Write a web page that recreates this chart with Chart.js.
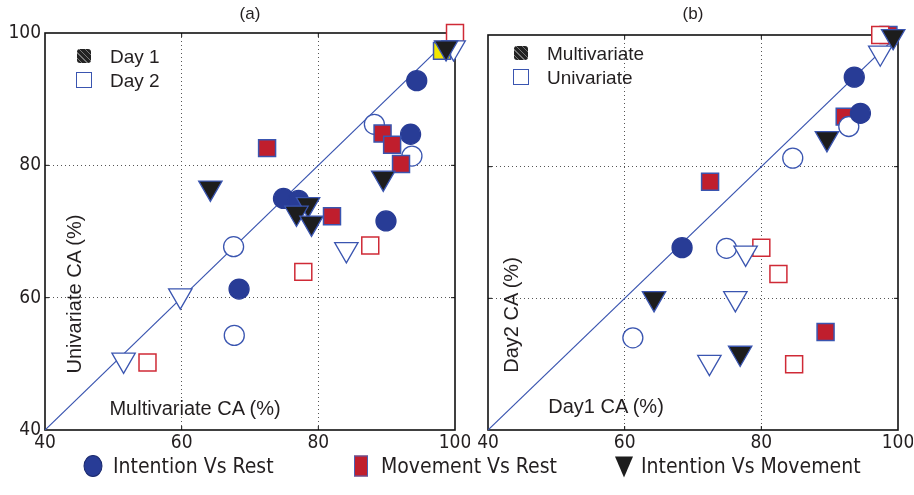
<!DOCTYPE html>
<html>
<head>
<meta charset="utf-8">
<script src="https://cdn.jsdelivr.net/npm/chart.js@4/dist/chart.umd.min.js"></script>
<style>
    html, body { margin: 0; padding: 0; background: #fff; }
    body { width: 914px; height: 495px; position: relative; overflow: hidden;
           font-family: 'Liberation Sans', Arial, sans-serif; color: #231f20; }
    .panel { position: absolute; top: 0; width: 470px; height: 455px; }
    .txt { position: absolute; white-space: nowrap; font-size: 18px; line-height: 1; }
    .rot { transform: translate(-50%, -50%) rotate(-90deg); }
    .ctr { transform: translate(-50%, -50%); }
    .mid { transform: translateY(-50%); }
    .cond { font-family: 'DejaVu Sans Condensed', 'Liberation Sans Narrow', sans-serif; }
    .mk { position: absolute; box-sizing: border-box; transform: translate(-50%, -50%); }
</style>
</head>
<body>
<div class="panel" style="left:0"><canvas id="chartA" width="470" height="455"></canvas></div>
<div class="panel" style="left:443px"><canvas id="chartB" width="470" height="455"></canvas></div>

<div class="txt ctr" style="left:250px;top:13px;font-size:17px">(a)</div>
<div class="txt ctr" style="left:693px;top:13px;font-size:17px">(b)</div>

<div class="txt rot" style="left:74px;top:294px;font-size:20px">Univariate CA (%)</div>
<div class="txt ctr" style="left:195px;top:408px;font-size:20px">Multivariate CA (%)</div>
<div class="txt rot" style="left:511px;top:315px;font-size:20px">Day2 CA (%)</div>
<div class="txt ctr" style="left:606px;top:406px;font-size:20px">Day1 CA (%)</div>

<div class="mk" style="left:84px;top:56px;width:14px;height:14px;border-radius:3px;background:repeating-linear-gradient(45deg,#222 0 3px,#777 3px 4px)"></div>
<div class="txt mid" style="left:110px;top:56px;font-size:19px">Day 1</div>
<div class="mk" style="left:84px;top:80px;width:16px;height:16px;border:1.5px solid #3a55b0"></div>
<div class="txt mid" style="left:110px;top:80px;font-size:19px">Day 2</div>

<div class="mk" style="left:521px;top:53px;width:14px;height:14px;border-radius:3px;background:repeating-linear-gradient(45deg,#222 0 3px,#777 3px 4px)"></div>
<div class="txt mid" style="left:547px;top:53px;font-size:19px">Multivariate</div>
<div class="mk" style="left:521px;top:77px;width:16px;height:16px;border:1.5px solid #3a55b0"></div>
<div class="txt mid" style="left:547px;top:77px;font-size:19px">Univariate</div>

<div class="mk" style="left:93px;top:466px;width:19px;height:22px;border-radius:50%;background:#283c96;border:1px solid #1b2a6e"></div>
<div class="txt mid cond" style="left:113px;top:466px;font-size:21px">Intention Vs Rest</div>
<div class="mk" style="left:361px;top:466px;width:14px;height:21px;background:#c01e2d;border:1.5px solid #4a62b5"></div>
<div class="txt mid cond" style="left:381px;top:466px;font-size:21px">Movement Vs Rest</div>
<div class="mk" style="left:624px;top:466px;width:0;height:0;border-left:9px solid transparent;border-right:9px solid transparent;border-top:21px solid #1d1d1d;transform:translate(-50%,-45%)"></div>
<div class="txt mid cond" style="left:641px;top:466px;font-size:21px">Intention Vs Movement</div>

<script>
// axis range and ticks
var axisTicks = [40, 60, 80, 100];
var diagonal = [[40, 40], [100, 100]];

// (a) multivariate (x) vs univariate (y)
var aIntRestDay1 = [[94.4, 92.8], [93.5, 84.7], [74.9, 75.0], [77.1, 74.7], [89.9, 71.6], [68.4, 61.3]];
var aIntRestDay2 = [[88.2, 86.2], [93.7, 81.4], [67.6, 67.7], [67.7, 54.3]];
var aMoveRestDay1 = [[72.5, 82.6], [89.4, 84.8], [90.8, 83.1], [92.1, 80.2], [82.0, 72.3]];
var aMoveRestDay1Top = [[98.1, 97.3]];
var aMoveRestDay2 = [[100, 100], [87.6, 67.9], [77.8, 63.9], [55.0, 50.2]];
var aIntMoveDay1 = [[64.2, 76.6], [78.5, 74.1], [76.8, 72.8], [79.0, 71.3], [89.5, 78.1], [98.7, 97.8]];
var aIntMoveDay2 = [[99.8, 97.8], [84.1, 67.3], [59.8, 60.3], [51.5, 50.6]];

// (b) day 1 (x) vs day 2 (y)
var bIntRestMulti = [[93.6, 93.6], [94.5, 88.1], [68.4, 67.7]];
var bIntRestUni = [[92.8, 86.1], [84.6, 81.3], [74.9, 67.6], [61.2, 54.0]];
var bMoveRestMulti = [[98.6, 100], [92.2, 87.6], [72.5, 77.7], [89.4, 54.9]];
var bMoveRestUni = [[97.4, 100], [80.0, 67.7], [82.5, 63.7], [84.8, 50.0]];
var bIntMoveMulti = [[99.3, 99.8], [89.6, 84.3], [64.3, 60.0], [76.9, 51.7]];
var bIntMoveUni = [[97.4, 97.3], [77.7, 66.9], [76.2, 60.0], [72.4, 50.3]];

(function (window, document) {
    'use strict';

    var BLUE = '#283c96';
    var EDGE = '#3a55b0';
    var RED = '#c01e2d';
    var BLACK = '#1d1d1d';
    var TICK_FONT = { family: "'DejaVu Sans Condensed', 'Liberation Sans Narrow', sans-serif", size: 19 };

    var toPoints = function (arr) {
        return arr.map(function (p) { return { x: p[0], y: p[1] }; });
    };

    var circle = function (data, filled) {
        return {
            data: toPoints(data), pointStyle: 'circle', pointRadius: 10, clip: false,
            backgroundColor: filled ? BLUE : '#fff',
            borderColor: filled ? BLUE : EDGE, borderWidth: 1.3
        };
    };
    var square = function (data, filled, fill) {
        return {
            data: toPoints(data), pointStyle: 'rect', pointRadius: 12, clip: false,
            backgroundColor: filled ? (fill || RED) : '#fff',
            borderColor: filled ? EDGE : '#cf2a36', borderWidth: 1.5
        };
    };
    var triangle = function (data, filled) {
        return {
            data: toPoints(data), pointStyle: 'triangle', pointRadius: 13.5, rotation: 180, clip: false,
            backgroundColor: filled ? BLACK : '#fff',
            borderColor: EDGE, borderWidth: 1.3
        };
    };

    // black box round the plot plus inward ticks
    var frame = {
        id: 'frame',
        beforeDatasetsDraw: function (chart) {
            var a = chart.chartArea, ctx = chart.ctx;
            var xs = chart.scales.x, ys = chart.scales.y;
            ctx.save();
            ctx.strokeStyle = '#111';
            ctx.lineWidth = 1;
            axisTicks.slice(1, -1).forEach(function (v) {
                var px = xs.getPixelForValue(v), py = ys.getPixelForValue(v);
                ctx.beginPath();
                ctx.moveTo(px, a.bottom); ctx.lineTo(px, a.bottom - 4);
                ctx.moveTo(px, a.top); ctx.lineTo(px, a.top + 4);
                ctx.moveTo(a.left, py); ctx.lineTo(a.left + 4, py);
                ctx.moveTo(a.right, py); ctx.lineTo(a.right - 4, py);
                ctx.stroke();
            });
            ctx.lineWidth = 1.6;
            ctx.strokeRect(a.left, a.top, a.right - a.left, a.bottom - a.top);
            ctx.restore();
        }
    };

    var makeChart = function (id, datasets, showY, top) {
        var grid = {
            drawTicks: false,
            color: function (c) {
                return (c.tick && c.tick.value > 40 && c.tick.value < 100) ? '#555' : 'rgba(0,0,0,0)';
            }
        };
        return new Chart(document.getElementById(id), {
            type: 'scatter',
            data: {
                datasets: [{
                    type: 'line', data: toPoints(diagonal), borderColor: EDGE, borderWidth: 1.2,
                    pointRadius: 0, fill: false, order: 10
                }].concat(datasets)
            },
            options: {
                responsive: false,
                animation: false,
                layout: { padding: { top: top, right: 15, left: 0, bottom: 0 } },
                plugins: { legend: { display: false }, tooltip: { enabled: false } },
                scales: {
                    x: {
                        min: 40, max: 100,
                        afterBuildTicks: function (s) { s.ticks = axisTicks.map(function (v) { return { value: v }; }); },
                        afterFit: function (s) { s.height = 25; s.paddingLeft = 0; s.paddingRight = 0; },
                        grid: grid,
                        border: { display: false, dash: [1, 3] },
                        ticks: { color: '#231f20', font: TICK_FONT, padding: 2, maxRotation: 0 }
                    },
                    y: {
                        min: 40, max: 100,
                        afterBuildTicks: function (s) { s.ticks = axisTicks.map(function (v) { return { value: v }; }); },
                        afterFit: function (s) { s.width = 45; s.paddingTop = 0; s.paddingBottom = 0; },
                        grid: grid,
                        border: { display: false, dash: [1, 3] },
                        ticks: { display: showY, color: '#231f20', font: TICK_FONT, padding: 4 }
                    }
                }
            },
            plugins: [frame]
        });
    };

    makeChart('chartA', [
        circle(aIntRestDay2, false),
        square(aMoveRestDay2, false),
        triangle(aIntMoveDay2, false),
        circle(aIntRestDay1, true),
        square(aMoveRestDay1, true),
        square(aMoveRestDay1Top, true, '#f2e600'),
        triangle(aIntMoveDay1, true)
    ].reverse(), true, 33);

    makeChart('chartB', [
        square(bMoveRestMulti, true),
        circle(bIntRestUni, false),
        square(bMoveRestUni, false),
        triangle(bIntMoveUni, false),
        circle(bIntRestMulti, true),
        triangle(bIntMoveMulti, true)
    ].reverse(), false, 35);

})(window, document);
</script>
</body>
</html>
